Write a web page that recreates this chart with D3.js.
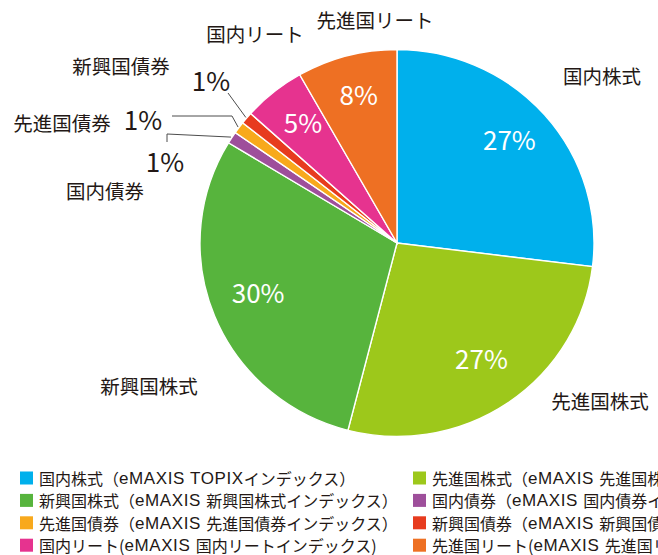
<!DOCTYPE html>
<html>
<head>
<meta charset="utf-8">
<script src="https://cdn.jsdelivr.net/npm/d3@7"></script>
<style>
    body { margin: 0; background: #fff; }
    svg { display: block; font-family: "Noto Sans CJK JP", "Noto Sans", sans-serif; }
    .latin { font-family: "Liberation Sans", Arial, sans-serif; }
</style>
</head>
<body>
<svg id="chart" width="658" height="555"></svg>
<script>
// ===== DATA ===== \\
const categories = ['国内株式', '先進国株式', '新興国株式', '国内債券', '先進国債券', '新興国債券', '国内リート', '先進国リート']
const shares = [26.9, 27.0, 29.6, 1.0, 1.0, 1.0, 5.1, 8.2]
const funds = [
    'eMAXIS TOPIXインデックス',
    'eMAXIS 先進国株式インデックス',
    'eMAXIS 新興国株式インデックス',
    'eMAXIS 国内債券インデックス',
    'eMAXIS 先進国債券インデックス',
    'eMAXIS 新興国債券インデックス',
    'eMAXIS 国内リートインデックス',
    'eMAXIS 先進国リートインデックス'
]
const colors = ['#00b0ec', '#9dc81b', '#57b43d', '#9e4f9b', '#f8a91c', '#e73b1e', '#e6338f', '#ee7023']

// where the outer name labels sit (annotation layout)
const nameLayout = [[602, 75], [600, 400], [149, 385], [105, 190], [62, 122], [121, 65], [255, 33], [375, 19]]

function drawPie() {
    const svg = d3.select('#chart')
    const cx = 397, cy = 243, radius = 197
    const ky = 0.982 // the source picture is a bit squashed vertically

    const g = svg.append('g').attr('transform', `translate(${cx},${cy}) scale(1,${ky})`)
    const labels = svg.append('g').attr('transform', `translate(${cx},${cy})`)

    const pie = d3.pie().sort(null).value(d => d)
    const arcs = pie(shares)
    const arc = d3.arc().innerRadius(0).outerRadius(radius)
    const labelArc = d3.arc().innerRadius(150).outerRadius(150)
    const color = d3.scaleOrdinal().domain(categories).range(colors)

    // ===== SLICES ===== \\
    g.selectAll('path.slice')
        .data(arcs)
        .join('path')
        .attr('class', 'slice')
        .attr('d', arc)
        .attr('fill', (d, i) => color(categories[i]))
        .attr('stroke', '#fff')
        .attr('stroke-width', 1.4)

    // ===== INSIDE PERCENTS ===== \\
    labels.selectAll('text.pct')
        .data(arcs.filter(d => d.data >= 3))
        .join('text')
        .attr('class', 'pct')
        .attr('transform', d => {
            const [x, y] = labelArc.centroid(d)
            return `translate(${x},${y * ky - 7})`
        })
        .attr('text-anchor', 'middle')
        .attr('dominant-baseline', 'central')
        .attr('fill', '#fff')
        .attr('font-size', 26)
        .text(d => Math.round(d.data) + '%')

    // ===== NAME LABELS ===== \\
    svg.selectAll('text.name')
        .data(categories)
        .join('text')
        .attr('class', 'name')
        .attr('x', (d, i) => nameLayout[i][0])
        .attr('y', (d, i) => nameLayout[i][1])
        .attr('text-anchor', 'middle')
        .attr('dominant-baseline', 'central')
        .attr('fill', '#231815')
        .attr('font-size', 19.5)
        .text(d => d)

    // ===== SMALL SLICES: LEADER LINES ===== \\
    const edge = d => {
        const a = (d.startAngle + d.endAngle) / 2
        return [cx + (radius + 1) * Math.sin(a), cy - (radius + 1) * Math.cos(a) * ky]
    }
    const small = [
        { i: 3, path: p => [p, [167, 134], [167, 142]], pct: [165, 160] },
        { i: 4, path: p => [p, [232, 116], [172, 116]], pct: [143, 118] },
        { i: 5, path: p => [p, [228, 93]], pct: [211, 79] }
    ]
    small.forEach(s => {
        const p = edge(arcs[s.i])
        svg.append('path')
            .attr('d', d3.line()(s.path(p)))
            .attr('fill', 'none')
            .attr('stroke', '#4d4d4d')
            .attr('stroke-width', 1)
        svg.append('text')
            .attr('x', s.pct[0])
            .attr('y', s.pct[1])
            .attr('text-anchor', 'middle')
            .attr('dominant-baseline', 'central')
            .attr('fill', '#231815')
            .attr('font-size', 26)
            .text(Math.round(shares[s.i]) + '%')
    })

    renderLegend(svg, color)
}

function renderLegend(svg, color) {
    const legend = svg.append('g').attr('class', 'legend')
    const colX = [20, 413], rowY = 478, rowStep = 22.4

    categories.forEach((c, i) => {
        const x = colX[i % 2]
        const y = rowY + Math.floor(i / 2) * rowStep
        legend.append('rect')
            .attr('x', x)
            .attr('y', y - 6.5)
            .attr('width', 13)
            .attr('height', 13)
            .attr('fill', color(c))

        const text = legend.append('text')
            .attr('x', x + 19)
            .attr('y', y)
            .attr('dominant-baseline', 'central')
            .attr('fill', '#231815')
            .attr('font-size', 16)

        // リート rows use narrow brackets in the source
        const label = c.endsWith('リート') ? `${c}(${funds[i]})` : `${c}（${funds[i]}）`
        label.split(/([A-Za-z]+(?: [A-Za-z]+)* ?)/).filter(s => s).forEach(part => {
            const isLatin = /^[A-Za-z ]+$/.test(part)
            text.append('tspan')
                .attr('class', isLatin ? 'latin' : null)
                .attr('font-size', isLatin ? 17 : 16)
                .attr('letter-spacing', isLatin ? 0.6 : 0)
                .text(part)
        })
    })
}

drawPie()
</script>
</body>
</html>
